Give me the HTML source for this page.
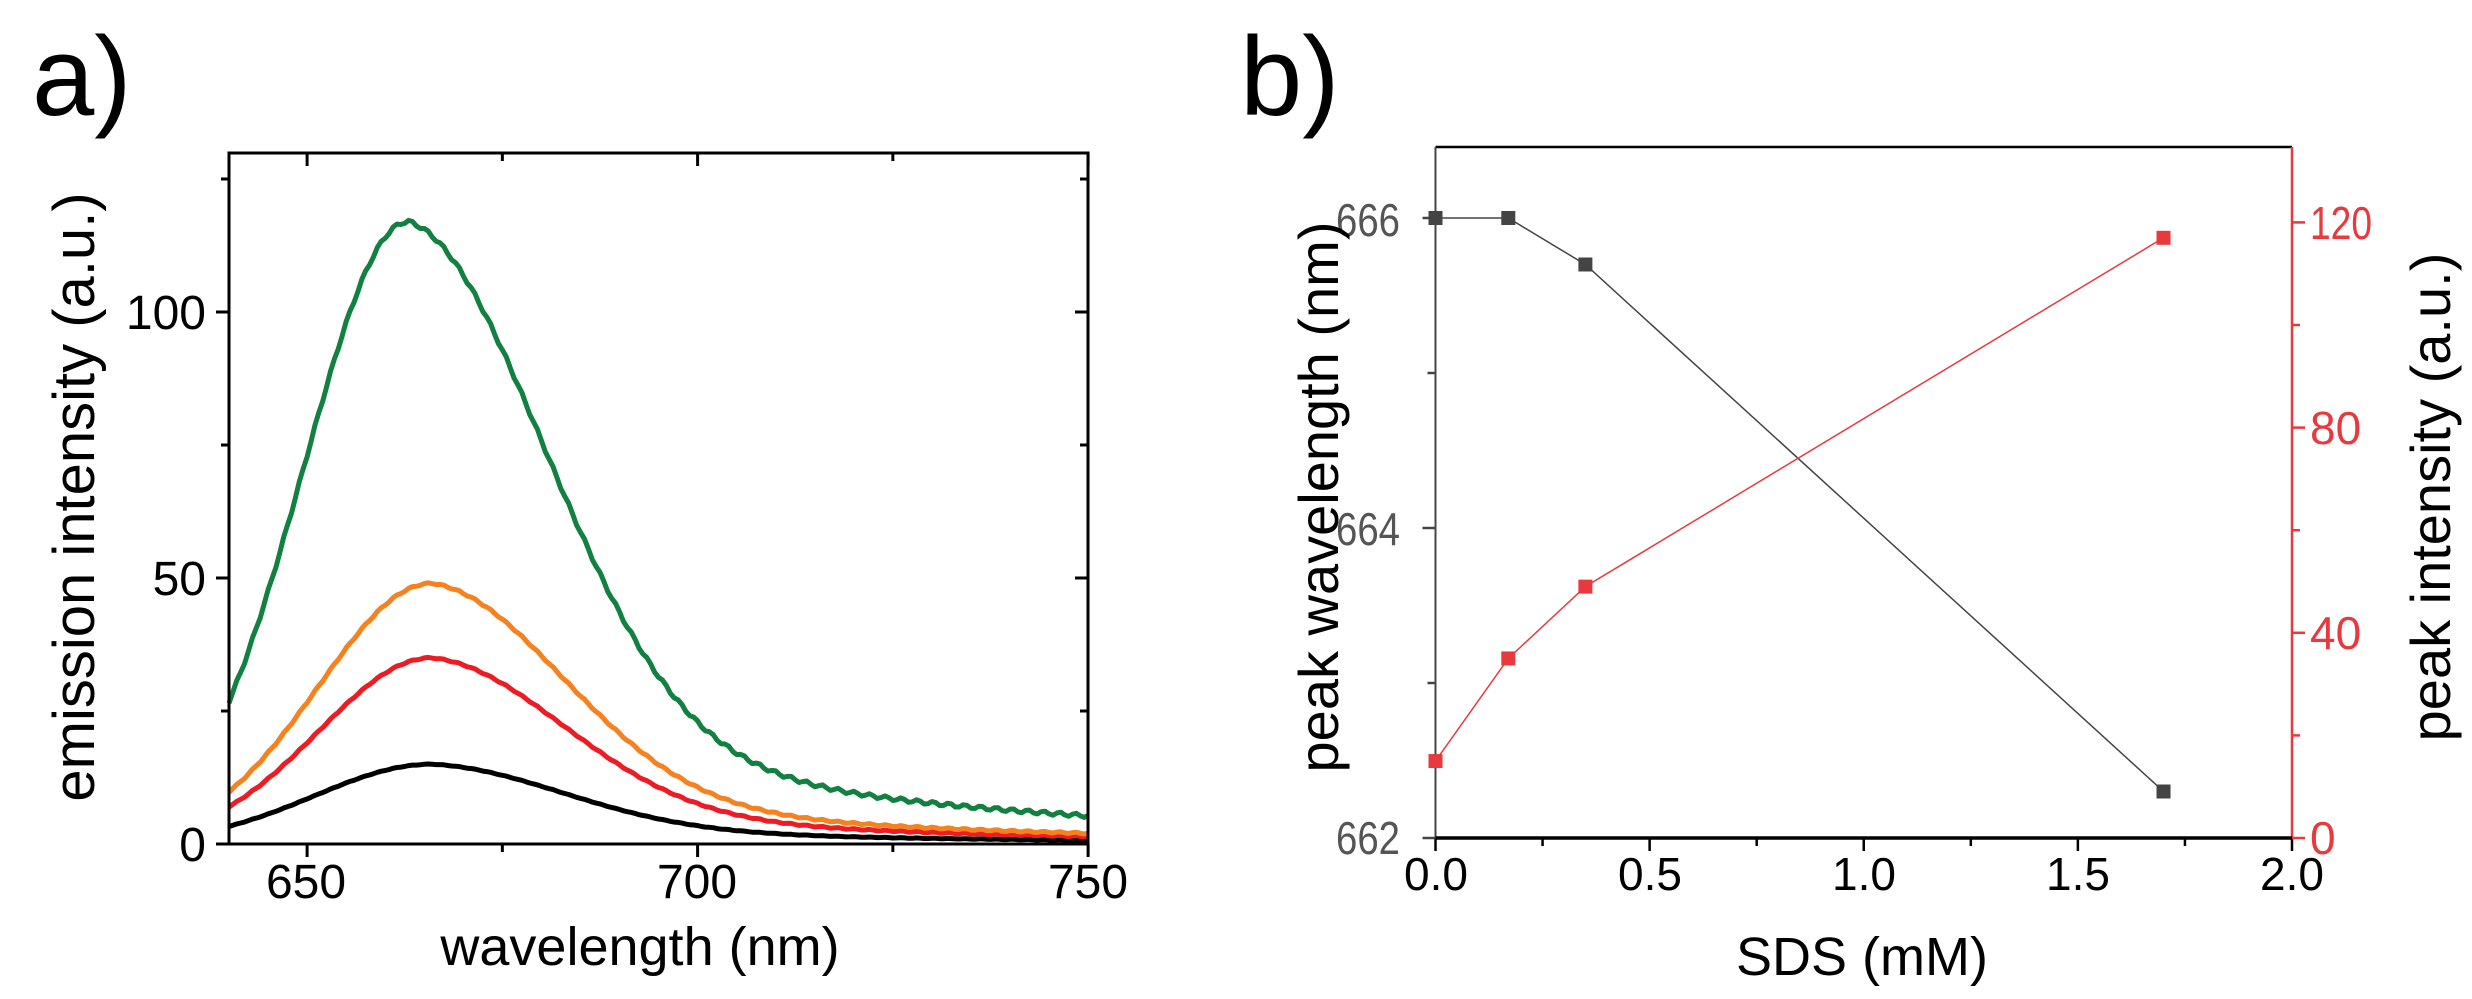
<!DOCTYPE html>
<html><head><meta charset="utf-8"><style>
html,body{margin:0;padding:0;background:#fff;}
svg{display:block;font-family:"Liberation Sans",sans-serif;}
</style></head><body>
<svg id="s" width="2472" height="999" viewBox="0 0 2472 999" xmlns="http://www.w3.org/2000/svg">
<rect width="2472" height="999" fill="#fff"/>
<text x="32" y="115" font-size="112">a)</text>
<text x="1240" y="115" font-size="112">b)</text>
<g id="pa"></g>
<g id="pb"></g>
<g font-size="48" text-anchor="middle">
<text x="306" y="898">650</text><text x="697" y="898">700</text><text x="1088" y="898">750</text>
</g>
<g font-size="48" text-anchor="end">
<text x="206" y="861">0</text><text x="206" y="595">50</text><text x="206" y="329">100</text>
</g>
<text x="640" y="965" font-size="54" text-anchor="middle">wavelength (nm)</text>
<text transform="translate(94,497) rotate(-90)" font-size="58" text-anchor="middle">emission intensity (a.u.)</text>
<g font-size="46" text-anchor="middle">
<text x="1436" y="890">0.0</text><text x="1650" y="890">0.5</text><text x="1864" y="890">1.0</text><text x="2078" y="890">1.5</text><text x="2292" y="890">2.0</text>
</g>
<g font-size="46" text-anchor="end" fill="#555">
<text x="1400" y="854" textLength="64" lengthAdjust="spacingAndGlyphs">662</text><text x="1400" y="545" textLength="64" lengthAdjust="spacingAndGlyphs">664</text><text x="1400" y="236" textLength="64" lengthAdjust="spacingAndGlyphs">666</text>
</g>
<g font-size="46" fill="#e8393e">
<text x="2310" y="854">0</text><text x="2310" y="649">40</text><text x="2310" y="444">80</text><text x="2310" y="239" textLength="62" lengthAdjust="spacingAndGlyphs">120</text>
</g>
<text x="1862" y="975" font-size="54" text-anchor="middle">SDS (mM)</text>
<text transform="translate(1338,497) rotate(-90)" font-size="56" text-anchor="middle">peak wavelength (nm)</text>
<text transform="translate(2450,497) rotate(-90)" font-size="56" text-anchor="middle">peak intensity (a.u.)</text>
</svg>
<script>
var NS="http://www.w3.org/2000/svg";
function el(p,t,a){var e=document.createElementNS(NS,t);for(var k in a)e.setAttribute(k,a[k]);p.appendChild(e);return e;}
var pa=document.getElementById("pa");
var X0=229,X1=1088,Y0=844,Yt=153;
function xa(w){return X0+(w-640)*7.81;}
function ya(v){return Y0-v*5.32;}
function shape(w,x0,A,sl,sr,tw,td){
 if(w<x0) return A*Math.exp(-Math.pow(w-x0,2)/(2*sl*sl));
 var d=w-x0;return A*((1-tw)*Math.exp(-d*d/(2*sr*sr))+tw*Math.exp(-d/td));}
var curves=[["#000",666,15,15,17,0.25,50],["#ed1c24",666,35,14.5,17,0.22,50],["#f5821f",666,49,14.5,17,0.22,50],["#118040",663,117,13.4,17.5,0.22,55]];
curves.forEach(function(c){var d="";for(var w=640;w<=750;w+=0.5){var v=shape(w,c[1],c[2],c[3],c[4],c[5],c[6]);v+=Math.sin(w*3.1)*0.15*(c[2]/50);d+=(d?"L":"M")+xa(w).toFixed(1)+","+ya(v).toFixed(1);}
el(pa,"path",{d:d,fill:"none",stroke:c[0],"stroke-width":5,"stroke-linejoin":"round"});});
el(pa,"rect",{x:X0,y:Yt,width:X1-X0,height:Y0-Yt,fill:"none",stroke:"#000","stroke-width":3});
[650,675,700,725,750].forEach(function(w,i){var x=xa(w),L=(w%50==0)?13:8;el(pa,"line",{x1:x,y1:Y0,x2:x,y2:Y0+L,stroke:"#000","stroke-width":3});el(pa,"line",{x1:x,y1:Yt,x2:x,y2:Yt+L,stroke:"#000","stroke-width":3});});
[0,25,50,75,100,125].forEach(function(v){var y=ya(v),L=(v%50==0)?13:8;if(y<Yt-1)return;el(pa,"line",{x1:X0,y1:y,x2:X0-L,y2:y,stroke:"#000","stroke-width":3});el(pa,"line",{x1:X1,y1:y,x2:X1-L,y2:y,stroke:"#000","stroke-width":3});});
var pb=document.getElementById("pb");
var BX0=1435.5,BX1=2292,BY0=838,BYt=147;
function xb(s){return BX0+s*428.25;}
function yl(v){return 218+(666-v)*155;}
function yr(v){return BY0-v*5.13;}
el(pb,"line",{x1:BX0,y1:BYt,x2:BX1,y2:BYt,stroke:"#000","stroke-width":2.5});
el(pb,"line",{x1:BX0,y1:BYt,x2:BX0,y2:BY0,stroke:"#444","stroke-width":2});
el(pb,"line",{x1:BX1,y1:BYt,x2:BX1,y2:BY0,stroke:"#e8393e","stroke-width":2.5});
el(pb,"line",{x1:BX0,y1:BY0,x2:BX1,y2:BY0,stroke:"#000","stroke-width":3.5});
for(var i=0;i<=8;i++){var x=xb(i*0.25),L=i%2?8:13;el(pb,"line",{x1:x,y1:BY0,x2:x,y2:BY0+L,stroke:"#000","stroke-width":2.5});}
[662,663,664,665,666].forEach(function(v){var L=(v%2==0)?13:8;el(pb,"line",{x1:BX0,y1:yl(v),x2:BX0-L,y2:yl(v),stroke:"#444","stroke-width":2.5});});
[0,20,40,60,80,100,120].forEach(function(v){var L=(v%40==0)?13:8;el(pb,"line",{x1:BX1,y1:yr(v),x2:BX1+L,y2:yr(v),stroke:"#e8393e","stroke-width":2.5});});
var bk=[[0,666],[0.17,666],[0.35,665.7],[1.7,662.3]],rd=[[0,15],[0.17,35],[0.35,49],[1.7,117]];
function poly(pts,fy,col,w){var d="";pts.forEach(function(p){d+=(d?"L":"M")+xb(p[0])+","+fy(p[1]);});el(pb,"path",{d:d,fill:"none",stroke:col,"stroke-width":w});
pts.forEach(function(p){el(pb,"rect",{x:xb(p[0])-7,y:fy(p[1])-7,width:14,height:14,fill:col});});}
poly(bk,yl,"#444",1.5);poly(rd,yr,"#e8393e",1.5);
</script>
</body></html>
